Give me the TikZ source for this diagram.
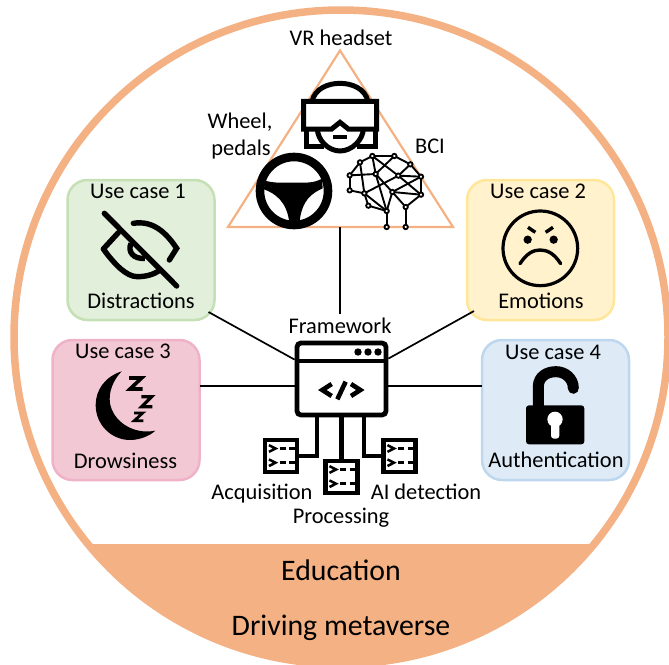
\documentclass[tikz,border=0pt]{standalone}
\usepackage{fontspec}
\setmainfont{Carlito}
\definecolor{ring}{HTML}{F4B183}
\tikzset{
  lbl/.style={anchor=base,inner sep=0pt,font=\fontsize{22.4}{24}\selectfont,text=black},
  biglbl/.style={anchor=base,inner sep=0pt,font=\fontsize{29.8}{31}\selectfont,text=black},
  ucase/.style={rectangle,rounded corners=20pt,minimum width=147pt,minimum height=140pt,line width=2.5pt,inner sep=0pt,outer sep=0pt},
  link/.style={line width=1.7pt,black},
  trunk/.style={line width=4.8pt,black},
  termbox/.style={rectangle,draw=black,fill=white,line width=4.8pt,minimum size=32pt,inner sep=0pt,outer sep=2.4pt},
  zm/.style={x=0.33333pt,y=-0.33333pt},
  brainedge/.style={line width=1.9pt,black},
  brainnode/.style={circle,draw=black,fill=white,line width=1.8pt,minimum size=4.4pt,inner sep=0pt,outer sep=0pt}
}
\newcommand{\termglyph}[1]{%
  \begin{scope}[shift={(#1)}]
    \foreach \yy in {-7.5,6.7}{
      \draw[line width=2.5pt,black,miter limit=10] (-12,\yy-3.3) -- (-5.5,\yy) -- (-12,\yy+3.3);
      \draw[line width=2.5pt,black] (-1.5,\yy) -- (4.5,\yy) (8,\yy) -- (13.5,\yy);
    }
  \end{scope}}
\begin{document}
\begin{tikzpicture}[x=1pt,y=-1pt]
\useasboundingbox (0,0) rectangle (669,664);
% outer disc
\begin{scope}
  \clip (341,337) circle [radius=330pt];
  \fill[ring] (0,544) rectangle (669,680);
\end{scope}
\draw[ring,line width=7.5pt] (341,337) circle [radius=327pt];

% triangle
\coordinate (tritop) at (340,50.5);
\coordinate (trileft) at (228,227);
\coordinate (triright) at (453,227);
\coordinate (tribase) at (340,227);
\draw[ring,line width=2.2pt,line join=miter] (tritop) -- (trileft) -- (triright) -- cycle;

% use case boxes
\node[ucase,draw={rgb,255:red,197;green,224;blue,180},fill={rgb,255:red,226;green,239;blue,218}] (uc1) at (141,250) {};
\node[ucase,draw={rgb,255:red,255;green,230;blue,153},fill={rgb,255:red,255;green,242;blue,204}] (uc2) at (540.5,250) {};
\node[ucase,draw={rgb,255:red,240;green,178;blue,200},fill={rgb,255:red,242;green,200;blue,212}] (uc3) at (126,410) {};
\node[ucase,draw={rgb,255:red,189;green,215;blue,238},fill={rgb,255:red,222;green,235;blue,247}] (uc4) at (555.5,410) {};

% framework window
\node[rectangle,rounded corners=4pt,draw=black,fill=white,line width=4.8pt,minimum width=89pt,minimum height=72pt,inner sep=0pt,outer sep=2.4pt] (fw) at (341.5,379) {};
\node[termbox] (term1) at (281,456) {};
\node[termbox] (term2) at (341.5,477) {};
\node[termbox] (term3) at (399.5,456) {};

% labels
\node[lbl] (t1) at (138,198) {Use case 1};
\node[lbl] (d1) at (141,308) {Distractions};
\node[lbl] (t2) at (538,198) {Use case 2};
\node[lbl] (d2) at (541,308) {Emotions};
\node[lbl] (t3) at (123,358) {Use case 3};
\node[lbl] (d3) at (125.5,468) {Drowsiness};
\node[lbl] (t4) at (553,359) {Use case 4};
\node[lbl] (d4) at (556,467) {Authentication};
\node[lbl] (fwlabel) at (340,333) {Framework};
\node[lbl] (acq) at (262,499) {Acquisition};
\node[lbl] (aid) at (426,499) {AI detection};
\node[lbl] (proc) at (341,523) {Processing};
\node[lbl] (vr) at (341,45) {VR headset};
\node[lbl] (wh) at (240,128) {Wheel,};
\node[lbl] (pd) at (241,155) {pedals};
\node[lbl] (bci) at (430,153) {BCI};
\node[biglbl] (edu) at (341,580) {Education};
\node[biglbl] (drv) at (341,635) {Driving metaverse};

% connectors
\draw[link] (tribase) -- ([shift={(0,-3)}]fwlabel.north);
\draw[link] ([shift={(-6,-8)}]uc1.south east) -- ([shift={(0,19)}]fw.north west);
\draw[link] ([shift={(7,-9)}]uc2.south west) -- ([shift={(0,18)}]fw.north east);
\draw[link] ([shift={(0,-24)}]uc3.east) -- ([shift={(0,7)}]fw.west);
\draw[link] ([shift={(0,-24)}]uc4.west) -- ([shift={(0,7)}]fw.east);
\draw[trunk] ([xshift=-24.5pt]fw.south) |- (term1.east);
\draw[trunk] (fw.south) -- (term2.north);
\draw[trunk] ([xshift=22.5pt]fw.south) |- (term3.west);

% window details
\draw[line width=3.4pt,black] (297,361) -- (386,361);
\foreach \xx in {358,368,378}{\fill[black] (\xx,352) circle [radius=3.7pt];}
\begin{scope}[shift={(200,310)},zm]
  \draw[line width=4.6pt,black,miter limit=10] (395,222) -- (367,240) -- (395,258);
  \draw[line width=4.6pt,black,miter limit=10] (453,222) -- (481,240) -- (453,258);
  \draw[line width=4.6pt,black] (437,215) -- (412,268);
\end{scope}
\termglyph{term1}
\termglyph{term2}
\termglyph{term3}

% headset
\begin{scope}[shift={(200,20)},zm]
  \draw[line width=5pt,black,fill=white] (336,244) .. controls (345,205) and (385,190) .. (420,190) .. controls (455,190) and (495,205) .. (504,244);
  \draw[line width=5pt,black,fill=white] (318,325) -- (318,380) -- (372,380) (525,325) -- (525,380) -- (470,380);
  \draw[line width=5pt,black,fill=white] (352,325) .. controls (352,360) and (385,393) .. (420,393) .. controls (455,393) and (490,360) .. (490,325);
  \fill[white] (311,244) -- (530,244) -- (530,327) -- (445,327) -- (420,307) -- (395,327) -- (311,327) -- cycle;
  \draw[line width=5pt,black,line join=miter] (311,244) -- (530,244) -- (530,327) -- (445,327) -- (420,307) -- (395,327) -- (311,327) -- cycle;
  \fill[black] (400,345) rectangle (442,357);
\end{scope}

% steering wheel
\begin{scope}[shift={(200,20)},zm]
  \draw[line width=8.6pt,black,fill=white] (282,513) circle (102);
  \fill[black] (195,482) .. controls (225,490) and (245,488) .. (282,488) .. controls (320,488) and (340,490) .. (366,476)
     -- (368,505) .. controls (335,520) and (305,540) .. (298,610) -- (268,610) .. controls (262,545) and (225,520) .. (192,508) -- cycle;
\end{scope}

% brain network
\begin{scope}[shift={(340,145)},zm]
  \foreach \n/\px/\py in {a/97/33,b/163/33,c/60/52,d/211/58,e/29/91,f/107/87,g/175/92,h/243/95,i/29/136,j/73/145,k/157/141,l/243/149,m/85/182,n/140/198,o/197/186,p/140/246,q/197/246}
    {\coordinate (br\n) at (\px,\py);}
  \foreach \u/\v in {a/b,a/c,b/d,c/e,d/h,e/i,h/l,i/j,j/m,m/n,l/o,n/p,o/q,k/o,a/g,b/f,d/g,e/f,f/n,c/j,f/k,g/h,g/l,j/g,j/n,k/h,k/l,f/a,k/n}
    {\draw[brainedge] (br\u) -- (br\v);}
  \foreach \n in {a,b,c,d,e,f,g,h,i,j,k,l,m,n,o,p,q}
    {\node[brainnode] at (br\n) {};}
\end{scope}

% eye slash
\begin{scope}[shift={(50,170)},zm]
  \draw[line width=5.4pt,black,line cap=round,line join=round] (205,188) -- (160,237) .. controls (195,285) and (230,320) .. (262,320) .. controls (285,320) and (310,315) .. (330,300);
  \draw[line width=5.4pt,black,line cap=round] (250,160) .. controls (310,150) and (350,190) .. (380,235) -- (358,270);
  \draw[line width=5.4pt,black] (243,220) .. controls (232,245) and (250,268) .. (285,265);
  \draw[line width=5.4pt,black,line cap=round] (163,130) -- (380,348);
\end{scope}

% moon
\begin{scope}[shift={(50,170)},zm]
  \fill[black] (215,604) .. controls (165,620) and (137,660) .. (137,705) .. controls (137,765) and (185,810) .. (240,810) .. controls (270,810) and (300,797) .. (316,782) .. controls (250,795) and (190,755) .. (180,700) .. controls (175,665) and (190,630) .. (215,604) -- cycle;
  \draw[line width=3.6pt,black,line join=miter,miter limit=10] (237,624) -- (275,624) -- (240,657) -- (278,657);
  \draw[line width=3.3pt,black,line join=miter,miter limit=10] (274,680) -- (305,680) -- (275,710) -- (307,710);
  \draw[line width=2.8pt,black,line join=miter,miter limit=10] (252,729) -- (278,729) -- (253,752) -- (280,752);
\end{scope}

% angry face
\begin{scope}[shift={(460,170)},zm]
  \draw[line width=3.2pt,black] (241,235) circle (112);
  \fill[black] (203,209) circle (12.5) (281,209) circle (12.5);
  \draw[line width=3.4pt,black] (204,172) -- (226,187) (279,172) -- (257,187);
  \draw[line width=3.4pt,black,line cap=round] (180,281) .. controls (200,250) and (220,240) .. (240,240) .. controls (262,240) and (282,250) .. (302,281);
\end{scope}

% lock
\begin{scope}[shift={(460,170)},zm]
  \draw[line width=11pt,black,line cap=round] (235,715) -- (235,650) .. controls (235,620) and (260,605) .. (288,605) .. controls (315,605) and (340,625) .. (340,655);
  \fill[black,rounded corners=3pt] (198,706) rectangle (373,823);
  \fill[white] (285,748) circle (23);
  \fill[white,rounded corners=3pt] (273,755) rectangle (298,806);
\end{scope}
\end{tikzpicture}
\end{document}
